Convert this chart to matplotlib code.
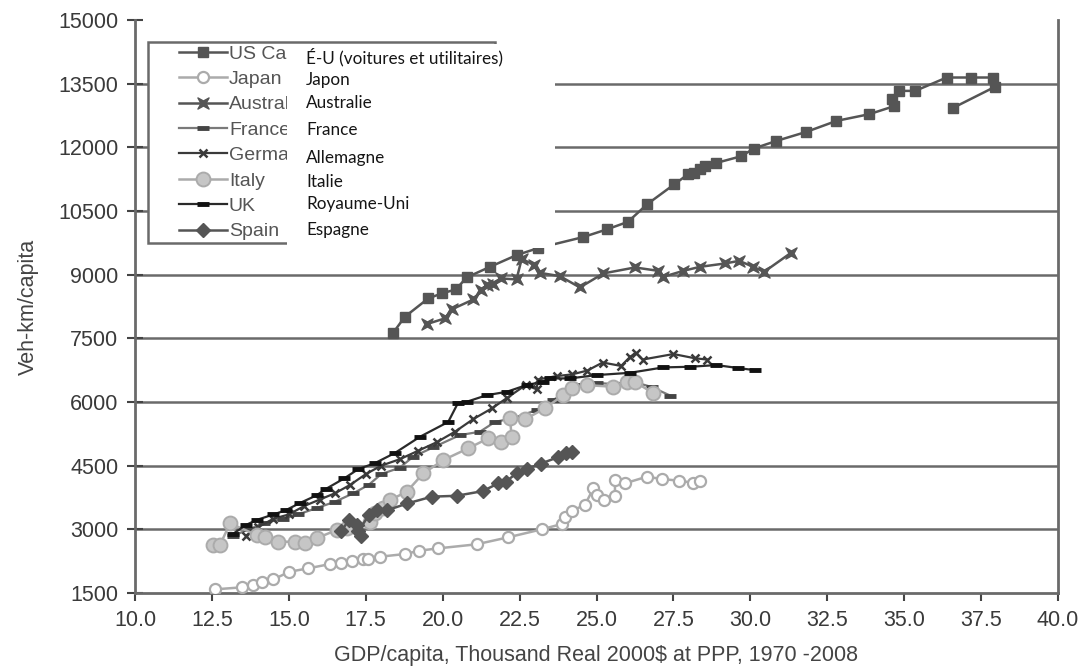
import matplotlib
matplotlib.use("Agg")
from matplotlib import pyplot as plt
from matplotlib.patches import Rectangle
from matplotlib.path import Path
import numpy as np

# --- data (GDP/capita k$, veh-km/capita) ---
us_x = [18.39, 18.77, 19.53, 19.97, 20.43, 20.78, 21.54, 22.40, 23.10, 24.56, 25.33, 26.02,
        26.65, 27.52, 27.98, 28.18, 28.36, 28.52, 28.90, 29.71, 30.11, 30.85, 31.82, 32.80,
        33.86, 34.67, 34.62, 34.83, 35.36, 36.38, 37.17, 37.89, 37.95, 36.59]
us_y = [7630, 8007, 8440, 8558, 8652, 8935, 9185, 9460, 9625, 9884, 10065, 10244,
        10661, 11125, 11367, 11398, 11478, 11563, 11634, 11791, 11972, 12152, 12364, 12623,
        12780, 12969, 13150, 13330, 13330, 13645, 13645, 13645, 13425, 12930]

japan_x = [12.60, 13.47, 13.85, 14.12, 14.50, 15.02, 15.63, 16.34, 16.69, 17.04, 17.42, 17.58,
           17.96, 18.77, 19.24, 19.86, 21.10, 22.13, 23.22, 23.87, 23.97, 24.19, 24.62, 24.90,
           25.00, 25.24, 25.60, 25.60, 25.92, 26.63, 27.14, 27.69, 28.14, 28.36]
japan_y = [1586, 1633, 1688, 1766, 1822, 2001, 2081, 2182, 2213, 2246, 2294, 2308,
           2355, 2418, 2497, 2552, 2647, 2812, 3000, 3125, 3297, 3438, 3572, 3966,
           3808, 3690, 3784, 4161, 4083, 4239, 4185, 4145, 4098, 4145]

aus_x = [19.48, 20.07, 20.29, 21.00, 21.26, 21.43, 21.64, 21.88, 22.40, 22.57, 22.97, 23.16,
         23.81, 24.46, 25.22, 26.25, 27.01, 27.17, 27.82, 28.36, 29.18, 29.64, 30.09, 30.45, 31.32]
aus_y = [7835, 7969, 8181, 8416, 8636, 8753, 8777, 8911, 8888, 9377, 9224, 9043,
         8965, 8699, 9029, 9170, 9090, 8949, 9090, 9184, 9264, 9326, 9185, 9067, 9514]

france_x = [13.2, 13.7, 14.2, 14.8, 15.3, 15.9, 16.5, 17.1, 17.6, 18.0, 18.6, 19.04, 19.69,
            20.56, 21.21, 21.7, 22.28, 23.06, 23.58, 24.04, 24.46, 25.0, 25.6, 26.2, 26.8, 27.4]
france_y = [2850, 3000, 3150, 3250, 3350, 3500, 3650, 3850, 4050, 4300, 4450, 4710, 4930,
            5220, 5300, 5530, 5620, 5810, 6045, 6234, 6398, 6450, 6420, 6480, 6350, 6150]

germany_x = [13.6, 14.0, 14.5, 15.0, 15.5, 16.0, 16.5, 17.0, 17.5, 18.0, 18.6, 19.2, 19.8,
             20.4, 21.0, 21.6, 22.1, 22.7, 23.05, 23.1, 23.7, 24.2, 24.7, 25.2, 25.8, 26.1,
             26.3, 26.5, 27.5, 28.2, 28.6]
germany_y = [2850, 3050, 3250, 3350, 3550, 3700, 3850, 4050, 4300, 4500, 4650, 4850, 5050,
             5300, 5600, 5850, 6100, 6400, 6300, 6530, 6610, 6650, 6740, 6930, 6850, 7070,
             7150, 7000, 7130, 7030, 7000]

italy_x = [12.55, 12.76, 13.09, 13.95, 14.22, 14.66, 15.20, 15.52, 15.90, 16.55, 16.88, 17.64,
           17.80, 18.07, 18.29, 18.83, 19.37, 20.02, 20.83, 21.48, 21.91, 22.24, 22.19, 22.67,
           23.32, 23.92, 24.19, 24.68, 25.54, 25.98, 26.25, 26.85]
italy_y = [2630, 2630, 3141, 2866, 2826, 2708, 2708, 2670, 2788, 2984, 3023, 3179,
           3377, 3495, 3690, 3886, 4319, 4632, 4908, 5143, 5063, 5181, 5614, 5590,
           5849, 6163, 6321, 6398, 6359, 6476, 6476, 6203]

uk_x = [13.2, 13.6, 13.95, 14.5, 14.9, 15.36, 15.9, 16.2, 16.8, 17.26, 17.8, 18.45, 19.26,
        20.18, 20.5, 20.78, 21.43, 22.08, 22.73, 23.27, 23.49, 24.14, 25.0, 26.09, 27.17,
        28.04, 28.9, 29.6, 30.15]
uk_y = [2900, 3100, 3220, 3350, 3450, 3620, 3800, 3950, 4200, 4420, 4560, 4800, 5180,
        5530, 5980, 6005, 6160, 6240, 6400, 6480, 6556, 6556, 6634, 6688, 6815,
        6830, 6870, 6800, 6750]

spain_x = [16.7, 16.95, 17.2, 17.35, 17.25, 17.6, 17.85, 18.2, 18.85, 19.65, 20.45, 21.3,
           21.8, 22.05, 22.4, 22.75, 23.2, 23.75, 24.0, 24.2]
spain_y = [2950, 3220, 3100, 2850, 2950, 3330, 3450, 3450, 3610, 3770, 3790, 3900,
           4080, 4120, 4320, 4430, 4550, 4700, 4790, 4830]

legend_en = ["US Cars and Light Trucks", "Japan", "Australia", "France", "Germany",
             "Italy", "UK", "Spain"]
legend_fr = ["É-U (voitures et utilitaires)", "Japon", "Australie", "France", "Allemagne",
             "Italie", "Royaume-Uni", "Espagne"]
fr_rows_px = [57, 80, 103, 130, 158, 182, 204, 230]

y_ticks = np.arange(1500, 15001, 1500)
x_ticks = np.arange(10, 40.01, 2.5)

plt.rcParams['font.family'] = ['Liberation Sans', 'DejaVu Sans']

W, H = 1083, 672
fig = plt.figure(figsize=(W / 100, H / 100), dpi=100)
ax = fig.add_axes([135 / W, 1 - 593 / H, 923 / W, 573 / H])

# concave square for Australia
bowtie = Path([(-1, 1), (0, 0.45), (1, 1), (0.45, 0), (1, -1), (0, -0.45), (-1, -1),
               (-0.45, 0), (-1, 1)], closed=True)

dk = '#555555'
lt = '#ababab'
ax.plot(us_x, us_y, '-', color=dk, lw=1.8, marker='s', ms=6.5, mfc=dk, mec=dk,
        label=legend_en[0], zorder=4)
ax.plot(japan_x, japan_y, '-', color=lt, lw=1.8, marker='o', ms=8, mfc='white', mec=lt,
        mew=1.6, label=legend_en[1], zorder=3)
ax.plot(aus_x, aus_y, '-', color=dk, lw=1.8, marker=bowtie, ms=8, mfc=dk, mec=dk,
        label=legend_en[2], zorder=4)
ax.plot(france_x, france_y, '-', color='#7a7a7a', lw=1.6, marker='_', ms=9, mew=3.5,
        mec='#444444', label=legend_en[3], zorder=3)
ax.plot(germany_x, germany_y, '-', color='#3a3a3a', lw=1.6, marker='x', ms=6, mew=1.8,
        mec='#3a3a3a', label=legend_en[4], zorder=3)
ax.plot(italy_x, italy_y, '-', color=lt, lw=1.8, marker='o', ms=10, mfc='#c6c6c6', mec=lt,
        mew=1.4, label=legend_en[5], zorder=3)
ax.plot(uk_x, uk_y, '-', color='#2a2a2a', lw=1.6, marker='_', ms=9, mew=3.5,
        mec='#111111', label=legend_en[6], zorder=3)
ax.plot(spain_x, spain_y, '-', color=dk, lw=1.8, marker='D', ms=7.5, mfc=dk, mec=dk,
        label=legend_en[7], zorder=4)

ax.set_xlim(10, 40)
ax.set_ylim(1500, 15000)
ax.set_xticks(x_ticks)
ax.set_xticklabels([f"{v:.1f}" for v in x_ticks])
ax.set_yticks(y_ticks)
ax.set_yticklabels([str(int(v)) for v in y_ticks])

ax.grid(axis='y', color='#6a6a6a', lw=1.8)
ax.get_ygridlines()[-1].set_visible(False)
ax.get_ygridlines()[0].set_visible(False)
ax.set_axisbelow(True)

for s in ['left', 'right', 'bottom']:
    ax.spines[s].set_color('#6a6a6a')
    ax.spines[s].set_linewidth(2)
ax.spines['top'].set_visible(False)

ax.tick_params(axis='y', direction='inout', length=12, width=1.5, color='#444444',
               labelsize=15.5, labelcolor='#3a3a3a', pad=6)
ax.tick_params(axis='x', direction='out', length=6, width=1.5, color='#444444',
               labelsize=15.5, labelcolor='#3a3a3a', pad=6)

ax.set_ylabel("Veh-km/capita", fontsize=15.5, color='#444444', labelpad=14)
ax.set_xlabel("GDP/capita, Thousand Real 2000$ at PPP, 1970 -2008", fontsize=15.5,
              color='#444444', labelpad=10)

# legend frame drawn separately, legend entries without their own frame
ax.add_patch(Rectangle((148 / W, 1 - 243 / H), 347 / W, 201 / H, transform=fig.transFigure,
                       facecolor='white', edgecolor='#6a6a6a', lw=1.8, zorder=4.5))
leg = ax.legend(loc='upper left', bbox_to_anchor=(44 / 923, 548 / 573), frameon=False,
                borderaxespad=0, borderpad=0, fontsize=14, handlelength=2.47,
                labelspacing=0.40, handletextpad=0.1)
leg.set_zorder(5)
for t in leg.get_texts():
    t.set_color('#555555')

# white patch with French labels laid over the legend
fig.add_artist(Rectangle((287 / W, 1 - 248 / H), 268 / W, 204 / H,
                         transform=fig.transFigure, facecolor='white', edgecolor='none',
                         zorder=5))
for lab, ypx in zip(legend_fr, fr_rows_px):
    fig.text(306 / W, 1 - ypx / H, lab, fontsize=12.3, family=['Lato', 'DejaVu Sans'],
             color='#151515', va='center', ha='left', zorder=6)

fig.savefig("out.png", dpi=100)
